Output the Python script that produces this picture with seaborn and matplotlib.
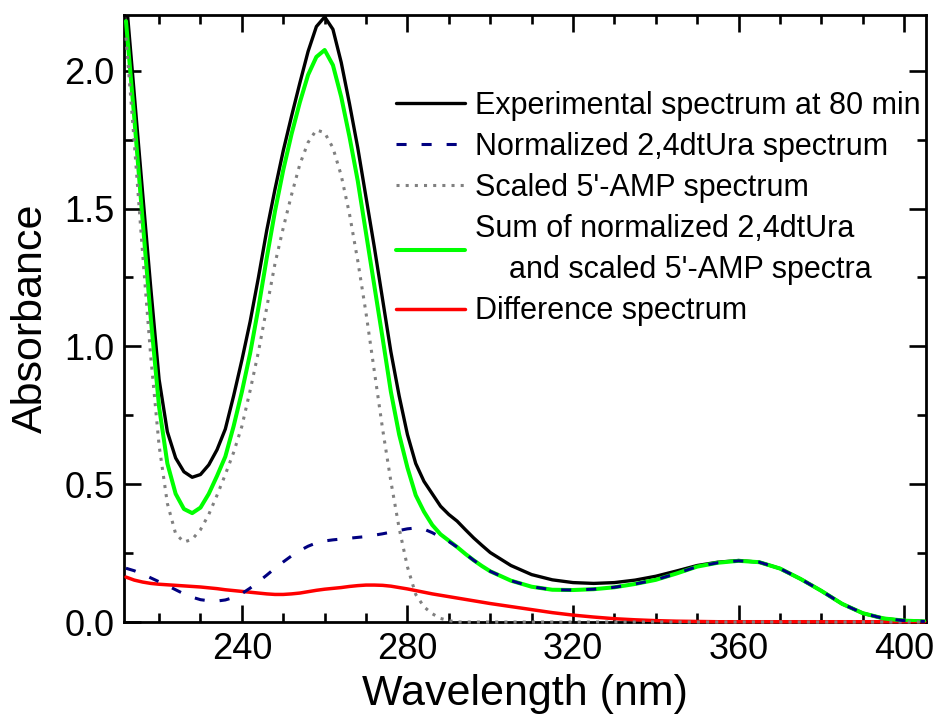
import matplotlib
matplotlib.use("Agg")
import matplotlib.pyplot as plt
import seaborn as sns
from matplotlib.ticker import MultipleLocator, FormatStrFormatter

sns.set_style("ticks")
plt.rcParams['font.family'] = ['Liberation Sans', 'DejaVu Sans']
plt.rcParams['text.color'] = 'black'
plt.rcParams['axes.labelcolor'] = 'black'
plt.rcParams['xtick.color'] = 'black'
plt.rcParams['ytick.color'] = 'black'

wavelength = [212, 214, 216, 218, 220, 222, 224, 226, 228, 230, 232, 234, 236, 238, 240,
              242, 244, 246, 248, 250, 252, 254, 256, 258, 260, 262, 264, 266, 268, 270,
              272, 274, 276, 278, 280, 282, 284, 286, 288, 290, 292, 294, 296, 298, 300,
              305, 310, 315, 320, 325, 330, 335, 340, 345, 350, 355, 360, 365, 370, 375,
              380, 385, 390, 395, 400, 405]

experimental = [2.27, 1.915, 1.56, 1.21, 0.88, 0.69, 0.595, 0.545, 0.525, 0.535, 0.57, 0.625, 0.70, 0.82, 0.95,
                1.09, 1.25, 1.42, 1.57, 1.71, 1.835, 1.955, 2.07, 2.16, 2.195, 2.15, 2.03, 1.88, 1.72, 1.54,
                1.36, 1.17, 0.98, 0.82, 0.68, 0.575, 0.51, 0.465, 0.42, 0.39, 0.366, 0.335, 0.305, 0.278, 0.252,
                0.205, 0.172, 0.153, 0.143, 0.140, 0.143, 0.152, 0.166, 0.185, 0.205, 0.217, 0.223, 0.217, 0.194, 0.156,
                0.113, 0.066, 0.032, 0.013, 0.005, 0.002]

dtura = [0.195, 0.186, 0.174, 0.160, 0.146, 0.132, 0.117, 0.102, 0.090, 0.081, 0.077, 0.076, 0.080, 0.089, 0.103,
         0.123, 0.146, 0.170, 0.195, 0.218, 0.240, 0.259, 0.275, 0.287, 0.294, 0.298, 0.301, 0.304, 0.307, 0.310,
         0.315, 0.320, 0.326, 0.332, 0.338, 0.341, 0.337, 0.324, 0.308, 0.292, 0.272, 0.247, 0.224, 0.203, 0.184,
         0.150, 0.128, 0.117, 0.116, 0.119, 0.126, 0.138, 0.153, 0.176, 0.201, 0.215, 0.222, 0.217, 0.194, 0.156,
         0.113, 0.066, 0.032, 0.013, 0.005, 0.002]

amp = [2.12, 1.74, 1.34, 0.96, 0.64, 0.43, 0.32, 0.29, 0.30, 0.335, 0.39, 0.46, 0.535, 0.615, 0.71,
       0.84, 0.98, 1.14, 1.30, 1.43, 1.55, 1.66, 1.74, 1.785, 1.775, 1.72, 1.62, 1.48, 1.31, 1.12,
       0.91, 0.70, 0.51, 0.34, 0.20, 0.10, 0.055, 0.03, 0.013, 0.005, 0.0, 0.0, 0.0, 0.0, 0.0,
       0.0, 0.0, 0.0, 0.0, 0.0, 0.0, 0.0, 0.0, 0.0, 0.0, 0.0, 0.0, 0.0, 0.0, 0.0,
       0.0, 0.0, 0.0, 0.0, 0.0, 0.0]

sum_spec = [2.18, 1.83, 1.46, 1.10, 0.78, 0.575, 0.465, 0.41, 0.395, 0.415, 0.465, 0.53, 0.60, 0.71, 0.835,
            0.975, 1.14, 1.32, 1.49, 1.64, 1.77, 1.885, 1.985, 2.05, 2.075, 2.02, 1.905, 1.76, 1.60, 1.41,
            1.22, 1.03, 0.835, 0.68, 0.56, 0.46, 0.40, 0.352, 0.318, 0.295, 0.272, 0.247, 0.224, 0.203, 0.184,
            0.150, 0.128, 0.117, 0.116, 0.119, 0.126, 0.138, 0.153, 0.176, 0.201, 0.215, 0.222, 0.217, 0.194, 0.156,
            0.113, 0.066, 0.032, 0.013, 0.005, 0.002]

difference = [0.163, 0.152, 0.145, 0.140, 0.137, 0.135, 0.133, 0.131, 0.129, 0.127, 0.124, 0.121, 0.117, 0.114, 0.111,
              0.108, 0.105, 0.102, 0.100, 0.100, 0.102, 0.105, 0.110, 0.115, 0.119, 0.122, 0.125, 0.129, 0.132, 0.134,
              0.134, 0.133, 0.130, 0.125, 0.120, 0.114, 0.108, 0.102, 0.097, 0.092, 0.087, 0.082, 0.077, 0.072, 0.067,
              0.056, 0.045, 0.034, 0.025, 0.018, 0.012, 0.008, 0.005, 0.003, 0.002, 0.001, 0.001, 0.001, 0.001, 0.001,
              0.001, 0.001, 0.001, 0.001, 0.001, 0.001]

labels = ["Experimental spectrum at 80 min",
          "Normalized 2,4dtUra spectrum",
          "Scaled 5'-AMP spectrum",
          "Sum of normalized 2,4dtUra\n    and scaled 5'-AMP spectra",
          "Difference spectrum"]

fig = plt.figure(figsize=(9.39, 7.21), dpi=100)
ax = fig.add_axes([0.1324, 0.1373, 0.8534, 0.8419])

sns.lineplot(x=wavelength, y=experimental, ax=ax, color="black", lw=2.4, label=labels[0], zorder=2)
sns.lineplot(x=wavelength, y=difference, ax=ax, color="#ff0000", lw=2.5, label=labels[4], zorder=3, clip_on=False)
sns.lineplot(x=wavelength, y=sum_spec, ax=ax, color="#00ff00", lw=2.9, label=labels[3], zorder=4)
sns.lineplot(x=wavelength, y=amp, ax=ax, color="#808080", lw=2.2, linestyle=(0, (1, 2)),
             label=labels[2], zorder=5, clip_on=False)
sns.lineplot(x=wavelength, y=dtura, ax=ax, color="#000080", lw=2.2, linestyle=(0, (3.3, 4.9)),
             label=labels[1], zorder=6, clip_on=False)

ax.set_xlim(211.6, 405.2)
ax.set_ylim(0, 2.202)
ax.xaxis.set_major_locator(MultipleLocator(40))
ax.xaxis.set_minor_locator(MultipleLocator(10))
ax.yaxis.set_major_locator(MultipleLocator(0.5))
ax.yaxis.set_minor_locator(MultipleLocator(0.25))
ax.yaxis.set_major_formatter(FormatStrFormatter("%.1f"))
ax.xaxis.set_major_formatter(FormatStrFormatter("%d"))

for s in ax.spines.values():
    s.set_linewidth(2.0)
    s.set_color("black")
ax.tick_params(which="both", direction="in", top=True, right=True, width=1.9, color="black")
ax.tick_params(which="major", length=12.5, labelsize=26, pad=7, labelcolor="black")
ax.tick_params(which="minor", length=6.2)

ax.set_xlabel("Wavelength (nm)", fontsize=31, labelpad=5, color="black")
ax.set_ylabel("Absorbance", fontsize=31, labelpad=10, color="black")

handles, labs = ax.get_legend_handles_labels()
order = [labs.index(l) for l in labels]
leg = ax.legend([handles[i] for i in order], [labs[i] for i in order],
                loc="upper left", bbox_to_anchor=(0.339, 0.875), frameon=False,
                fontsize=22, handlelength=2.25, handletextpad=0.33, labelspacing=0.36,
                borderpad=0, borderaxespad=0)
for t in leg.get_texts():
    t.set_linespacing(1.5)
    t.set_color("black")

fig.savefig("out.png", dpi=100)
